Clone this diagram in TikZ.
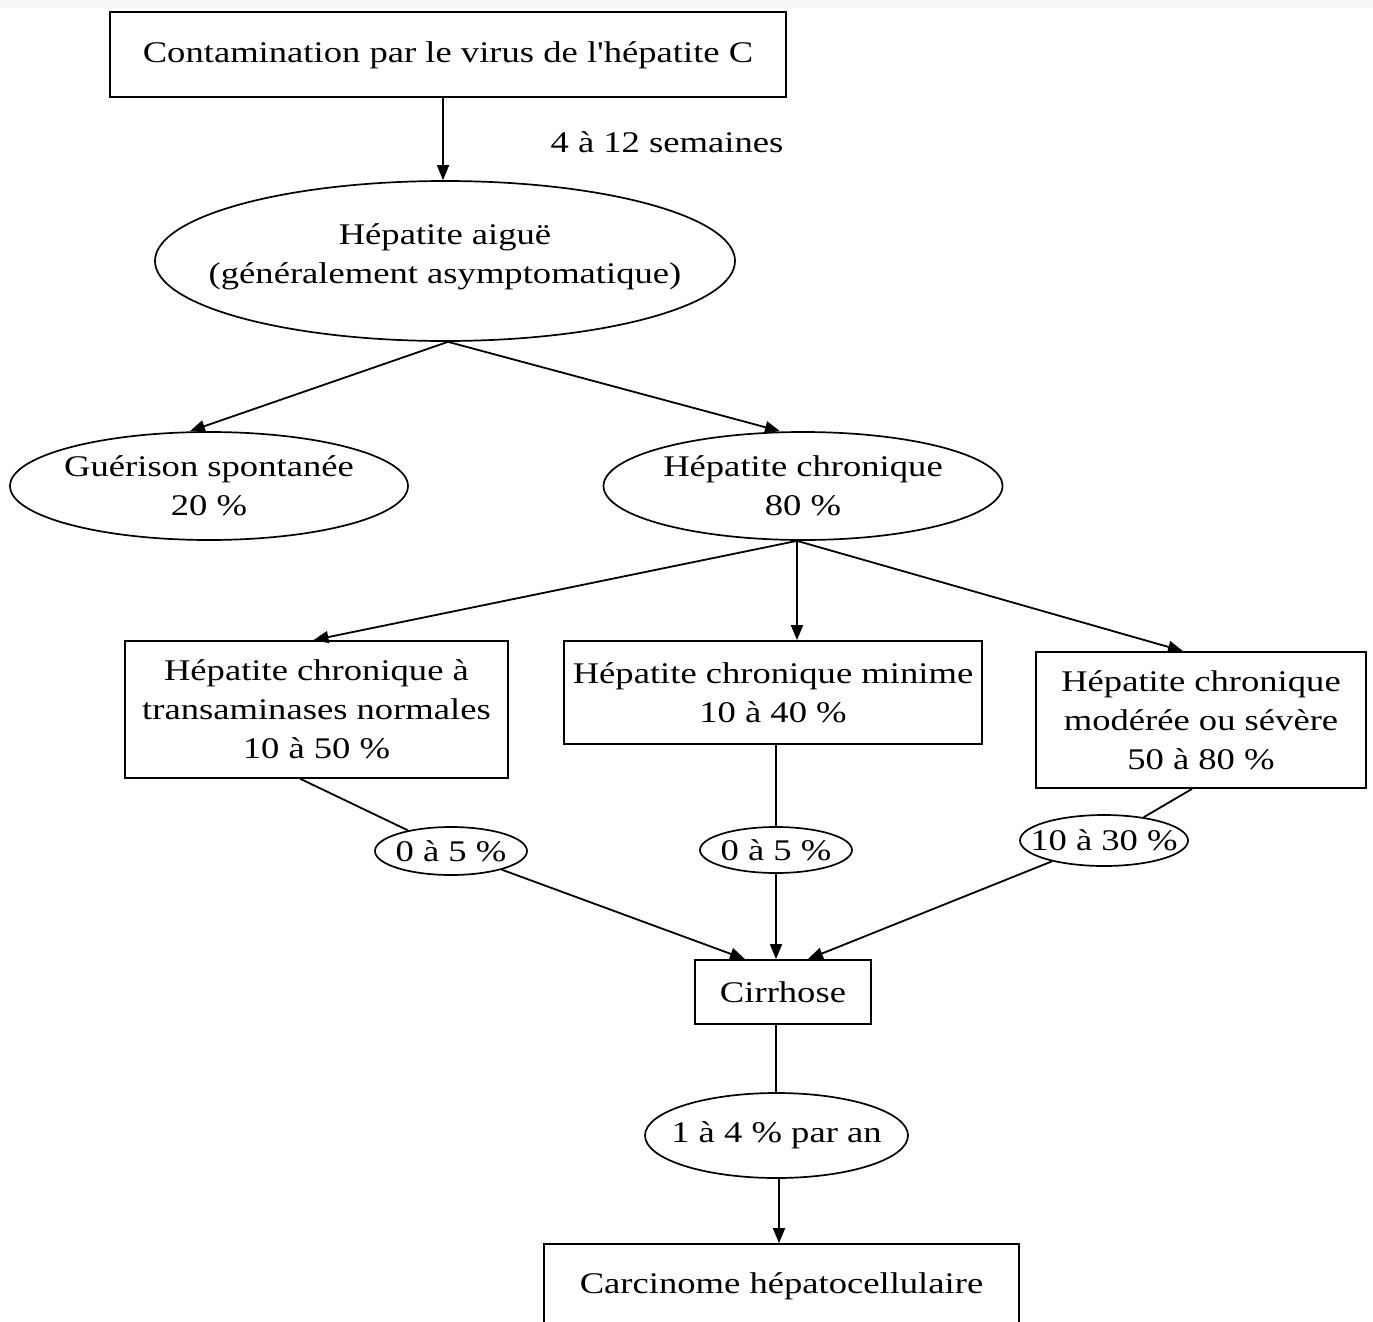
\documentclass[tikz,border=0pt]{standalone}
\usepackage{fontspec}
\setmainfont{Liberation Serif}[FakeStretch=1.22, Ligatures=TeXOff]
\usetikzlibrary{shapes.geometric,arrows.meta}
\tikzset{
  lbl/.style={font=\fontsize{30}{39}\selectfont, align=center, inner sep=0pt},
  rbox/.style={lbl, draw, line width=1.8pt, rectangle},
  ell/.style={draw, line width=1.7pt, ellipse, inner sep=0pt},
  conn/.style={line width=1.8pt},
  arr/.style={conn, -{Triangle[length=15pt,width=12pt]}}
}
\begin{document}
\begin{tikzpicture}[x=1pt,y=-1pt]
\useasboundingbox (0,0) rectangle (1373,1322);
\clip (0,0) rectangle (1373,1322);
\fill[gray!7] (0,0) rectangle (1373,8);
\node[rbox, minimum width=676pt, minimum height=85pt, text depth=4pt] (top) at (448,54.5) {Contamination par le virus de l'hépatite C};
\node[lbl] (sem) at (667,142) {4 à 12 semaines};
\node[ell, minimum width=580pt, minimum height=160pt, label={[lbl, yshift=4pt]center:{Hépatite aiguë\\(généralement asymptomatique)}}] (aig) at (445,261) {};
\node[ell, minimum width=398pt, minimum height=108pt, label={[lbl]center:{Guérison spontanée\\20 \%}}] (gue) at (209,486) {};
\node[ell, minimum width=399pt, minimum height=108pt, label={[lbl]center:{Hépatite chronique\\80 \%}}] (chr) at (803,486) {};
\node[rbox, minimum width=383pt, minimum height=137pt] (bl) at (316.5,709.5) {Hépatite chronique à\\transaminases normales\\10 à 50 \%};
\node[rbox, minimum width=418pt, minimum height=103pt] (bm) at (773,692.5) {Hépatite chronique minime\\10 à 40 \%};
\node[rbox, minimum width=330pt, minimum height=136pt] (br) at (1201,720) {Hépatite chronique\\modérée ou sévère\\50 à 80 \%};
\node[ell, minimum width=152pt, minimum height=48pt, label={[lbl]center:{0 à 5 \%}}] (s1) at (451,851) {};
\node[ell, minimum width=152pt, minimum height=46pt, label={[lbl]center:{0 à 5 \%}}] (s2) at (776,850) {};
\node[ell, minimum width=168pt, minimum height=51pt, label={[lbl]center:{10 à 30 \%}}] (s3) at (1104,840.5) {};
\node[rbox, minimum width=176pt, minimum height=64pt] (cir) at (783,992) {Cirrhose};
\node[ell, minimum width=263pt, minimum height=85pt, label={[lbl]center:{1 à 4 \% par an}}] (an) at (776.5,1135.5) {};
\node[rbox, minimum width=475pt, minimum height=84pt] (car) at (781.5,1286) {Carcinome hépatocellulaire};
% connectors
\draw[arr] ([xshift=-5pt]top.south) -- ([xshift=-5pt]top.south |- aig.north);
\draw[arr] ([xshift=3pt]aig.south) -- ([xshift=-19pt]gue.north);
\draw[arr] ([xshift=3pt]aig.south) -- ([xshift=-23pt]chr.north);
\draw[arr] ([xshift=-6pt]chr.south) -- ([xshift=-3pt]bl.north);
\draw[arr] ([xshift=-6pt]chr.south) -- ([xshift=-6pt]chr.south |- bm.north);
\draw[arr] ([xshift=-6pt]chr.south) -- ([xshift=-18pt]br.north);
\draw[conn] ([xshift=-16pt]bl.south) -- (s1);
\draw[conn] (s2.north |- bm.south) -- (s2.north);
\draw[conn] ([xshift=-9pt]br.south) -- (s3);
\draw[arr] (s1) -- ([xshift=-38pt]cir.north);
\draw[arr] (s2.south) -- (s2.south |- cir.north);
\draw[arr] (s3) -- ([xshift=25pt]cir.north);
\draw[conn] ([xshift=-7pt]cir.south) -- ([xshift=-7pt]cir.south |- an.north);
\draw[arr] ([xshift=2.5pt]an.south) -- ([xshift=2.5pt]an.south |- car.north);
\end{tikzpicture}
\end{document}
